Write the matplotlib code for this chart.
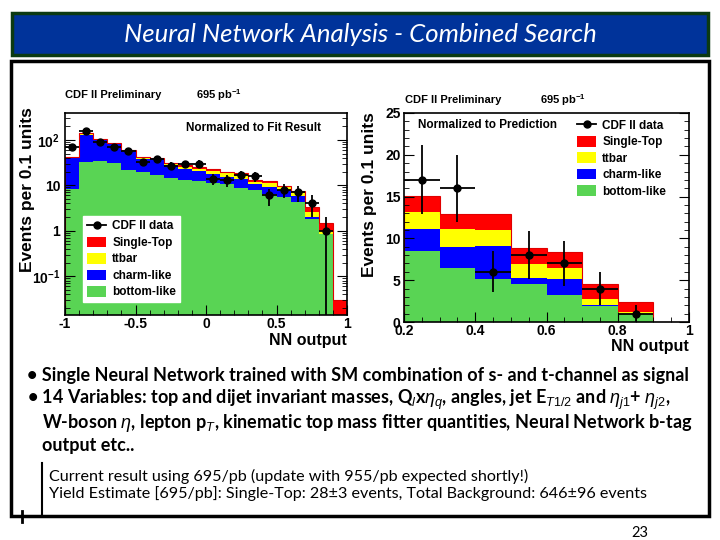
import numpy as np
import matplotlib
matplotlib.use("Agg")
import matplotlib.pyplot as plt
from matplotlib.patches import Rectangle, Patch
from matplotlib.lines import Line2D
from matplotlib.ticker import FixedLocator, MultipleLocator, LogLocator, NullFormatter

plt.rcParams['font.family'] = ['Liberation Sans', 'DejaVu Sans']
plt.rcParams['mathtext.fontset'] = 'custom'
plt.rcParams['mathtext.rm'] = 'Liberation Sans'
plt.rcParams['mathtext.bf'] = 'Liberation Sans:bold'
plt.rcParams['mathtext.it'] = 'Liberation Sans:italic'

# ---- datos panel izquierdo (ajuste), bins de 0.1 entre -1 y 1
bordes_izq = np.round(np.arange(-1.0, 1.01, 0.1), 2)
bottom_izq = [8.5, 33, 35, 31, 22, 20, 17, 14.7, 13.3, 12.4, 11.5, 10.5, 8.9, 7.8, 6.6, 5.4, 4.2, 1.77, 0.86, 0]
charm_izq = [32.5, 95, 62, 51, 36, 17, 21, 13.3, 9.7, 8.1, 6.5, 4.9, 4.6, 2.7, 2.6, 2.4, 1.7, 0.2, 0, 0]
ttbar_izq = [1, 6, 3, 2, 1, 2, 1, 2, 2, 2.5, 2.5, 2.8, 2.5, 1.3, 2.0, 1.4, 1.0, 0.63, 0.14, 0]
stop_izq = [1, 6, 3, 2, 1, 2, 1, 1, 3, 2, 2.5, 1.6, 2.2, 1.1, 1.2, 0.5, 0.6, 0.8, 0.45, 0.03]
datos_izq = [70, 160, 88, 70, 56, 33, 37, 27, 29, 30, 14, 13, 17, 16, 6, 8, 7, 4, 1, 0]

# ---- datos panel derecho (prediccion), bins de 0.1 entre 0.2 y 1
bordes_der = np.round(np.arange(0.2, 1.01, 0.1), 2)
bottom_der = [8.45, 6.5, 5.2, 4.5, 3.25, 1.9, 0.95, 0]
charm_der = [2.65, 2.5, 3.9, 0.8, 1.95, 0.1, 0.05, 0]
ttbar_der = [2.1, 2.1, 1.9, 1.6, 1.3, 0.8, 0.2, 0]
stop_der = [1.9, 1.8, 1.9, 2.0, 1.9, 1.7, 1.2, 0]
datos_der = [17, 16, 6, 8, 7, 4, 1, 0]

nombres = ["Single-Top", "ttbar", "charm-like", "bottom-like"]
colores = ["#ff0000", "#ffff00", "#0000ff", "#59d454"]

W, H = 720, 540
fig = plt.figure(figsize=(7.2, 5.4), dpi=100)


def px(x, y):
    # pixeles (desde arriba) -> fraccion de figura
    return x / W, 1 - y / H


def caja(x0, y0, x1, y1):
    l, t = px(x0, y0)
    r, b = px(x1, y1)
    return [l, b, r - l, t - b]


# ---- banner del titulo
l, b, w, h = caja(12, 13, 708, 55)
fig.patches.append(Rectangle((l, b), w, h, transform=fig.transFigure,
                             facecolor="#00339a", edgecolor="#0b3a12", linewidth=2.5))
fig.text(*px(360, 34), "Neural Network Analysis - Combined Search", color="white",
         fontsize=18.5, style="italic", family=["Lato", "DejaVu Sans"], ha="center", va="center")

# ---- marco de la diapositiva
l, b, w, h = caja(11, 61, 709, 516)
fig.patches.append(Rectangle((l, b), w, h, transform=fig.transFigure,
                             facecolor="none", edgecolor="black", linewidth=2.5))
fig.add_artist(Line2D([42 / W, 42 / W], [1 - 463 / H, 1 - 516 / H], color="black", lw=1.5))
fig.add_artist(Line2D([22 / W, 22 / W], [1 - 511 / H, 1 - 522 / H], color="black", lw=2))


def dibujar_stack(ax, bordes, comps, log=False):
    x = bordes[:-1]
    base = np.zeros(len(x))
    # orden de abajo hacia arriba
    for vals, col in zip(comps[::-1], colores[::-1]):
        vals = np.array(vals, dtype=float)
        ax.bar(x, vals, width=0.1, bottom=base, align="edge", color=col, linewidth=0, log=log)
        base = base + vals
    ax.stairs(base, bordes, color="#e00000", linewidth=0.8)


def dibujar_datos(ax, bordes, datos):
    d = np.array(datos, dtype=float)
    c = (bordes[:-1] + bordes[1:]) / 2
    m = d > 0
    ax.errorbar(c[m], d[m], xerr=0.05, yerr=np.sqrt(d[m]), fmt="o", color="black",
                ms=5, elinewidth=1.3, capsize=0)


def estilo(ax):
    ax.tick_params(which="both", direction="in", right=True, top=False, labelsize=10)
    ax.tick_params(which="major", length=7)
    ax.tick_params(which="minor", length=3.5)
    ax.tick_params(axis="x", pad=1.5)
    for lab in ax.get_xticklabels() + ax.get_yticklabels():
        lab.set_fontweight("bold")
    for s in ax.spines.values():
        s.set_linewidth(1.2)


leyenda = [Line2D([0], [0], color="black", marker="o", ms=5, lw=1.3, label="CDF II data")] + \
          [Patch(facecolor=c, edgecolor="none", label=n) for n, c in zip(nombres, colores)]

# ---- panel izquierdo
ax1 = fig.add_axes(caja(65, 113, 347, 315))
dibujar_stack(ax1, bordes_izq, [stop_izq, ttbar_izq, charm_izq, bottom_izq], log=True)
dibujar_datos(ax1, bordes_izq, datos_izq)
ax1.set_yscale("log")
ax1.set_xlim(-1, 1)
ax1.set_ylim(0.014, 390)
ax1.xaxis.set_major_locator(MultipleLocator(0.5))
ax1.xaxis.set_minor_locator(MultipleLocator(0.1))
ax1.set_xticks([-1, -0.5, 0, 0.5, 1], ["-1", "-0.5", "0", "0.5", "1"])
ax1.yaxis.set_major_locator(FixedLocator([0.1, 1, 10, 100]))
ax1.set_yticklabels([r"$\mathbf{10^{-1}}$", "1", "10", r"$\mathbf{10^{2}}$"])
ax1.yaxis.set_minor_locator(LogLocator(subs=np.arange(2, 10)))
ax1.yaxis.set_minor_formatter(NullFormatter())
estilo(ax1)
ax1.text(0.43, 0.926, "Normalized to Fit Result", transform=ax1.transAxes, fontsize=8.5,
         fontweight="bold", va="center")
lg1 = ax1.legend(handles=leyenda, loc="upper left", bbox_to_anchor=(0.065, 0.49), frameon=True,
                 fancybox=False, edgecolor="white", facecolor="white", framealpha=1,
                 prop={"weight": "bold", "size": 8.5}, handlelength=1.6, handleheight=1.0,
                 labelspacing=0.35, borderpad=0.35, handletextpad=0.5, borderaxespad=0)

# ---- panel derecho
ax2 = fig.add_axes(caja(404, 113, 689, 322))
dibujar_stack(ax2, bordes_der, [stop_der, ttbar_der, charm_der, bottom_der])
dibujar_datos(ax2, bordes_der, datos_der)
ax2.set_xlim(0.2, 1)
ax2.set_ylim(0, 25)
ax2.xaxis.set_major_locator(MultipleLocator(0.2))
ax2.xaxis.set_minor_locator(MultipleLocator(0.05))
ax2.set_xticks([0.2, 0.4, 0.6, 0.8, 1.0], ["0.2", "0.4", "0.6", "0.8", "1"])
ax2.yaxis.set_major_locator(MultipleLocator(5))
ax2.yaxis.set_minor_locator(MultipleLocator(1))
estilo(ax2)
ax2.tick_params(axis="y", pad=2.5)
ax2.text(0.05, 0.943, "Normalized to Prediction", transform=ax2.transAxes, fontsize=8.5,
         fontweight="bold", va="center")
ax2.legend(handles=leyenda, loc="upper left", bbox_to_anchor=(0.6, 0.98), frameon=False,
           prop={"weight": "bold", "size": 8.5}, handlelength=1.6, handleheight=1.0,
           labelspacing=0.35, borderpad=0.2, handletextpad=0.5, borderaxespad=0)

# ---- textos de los graficos
for x, y, tx in [(65, 95, "CDF II Preliminary"), (196, 95, r"695 pb$^{\mathbf{-1}}$"),
                 (405, 100, "CDF II Preliminary"), (540, 100, r"695 pb$^{\mathbf{-1}}$")]:
    fig.text(*px(x, y), tx, fontsize=8, fontweight="bold", va="center")
fig.text(*px(28, 190), "Events per 0.1 units", rotation=90, fontsize=12.5, fontweight="bold",
         ha="center", va="center")
fig.text(*px(370, 195), "Events per 0.1 units", rotation=90, fontsize=12.5, fontweight="bold",
         ha="center", va="center")
fig.text(*px(347, 341), "NN output", fontsize=11.5, fontweight="bold", ha="right", va="center")
fig.text(*px(689, 347), "NN output", fontsize=11.5, fontweight="bold", ha="right", va="center")

# ---- texto de la diapositiva
fs = 13
fuente = ["Lato", "DejaVu Sans"]
fig.text(*px(27, 375), "• Single Neural Network trained with SM combination of s- and t-channel as signal",
         fontsize=fs, fontweight="bold", family=fuente, va="center")
fig.text(*px(27, 400), r"• 14 Variables: top and dijet invariant masses, Q$_{l}$x$\eta_{q}$, angles, jet E$_{T1/2}$ and $\eta_{j1}$+ $\eta_{j2}$,",
         fontsize=fs, fontweight="bold", family=fuente, va="center")
fig.text(*px(42, 423), r"W-boson $\eta$, lepton p$_{T}$, kinematic top mass fitter quantities, Neural Network b-tag",
         fontsize=fs, fontweight="bold", family=fuente, va="center")
fig.text(*px(42, 445), "output etc..", fontsize=fs, fontweight="bold", family=fuente, va="center")
fig.text(*px(49, 476), "Current result using 695/pb (update with 955/pb expected shortly!)",
         fontsize=11.6, family=fuente, va="center")
fig.text(*px(49, 494), "Yield Estimate [695/pb]: Single-Top: 28±3 events, Total Background: 646±96 events",
         fontsize=11.6, family=fuente, va="center")
fig.text(*px(640, 533), "23", fontsize=10.5, family=fuente, ha="center", va="center")

fig.savefig("out.png", dpi=100)
